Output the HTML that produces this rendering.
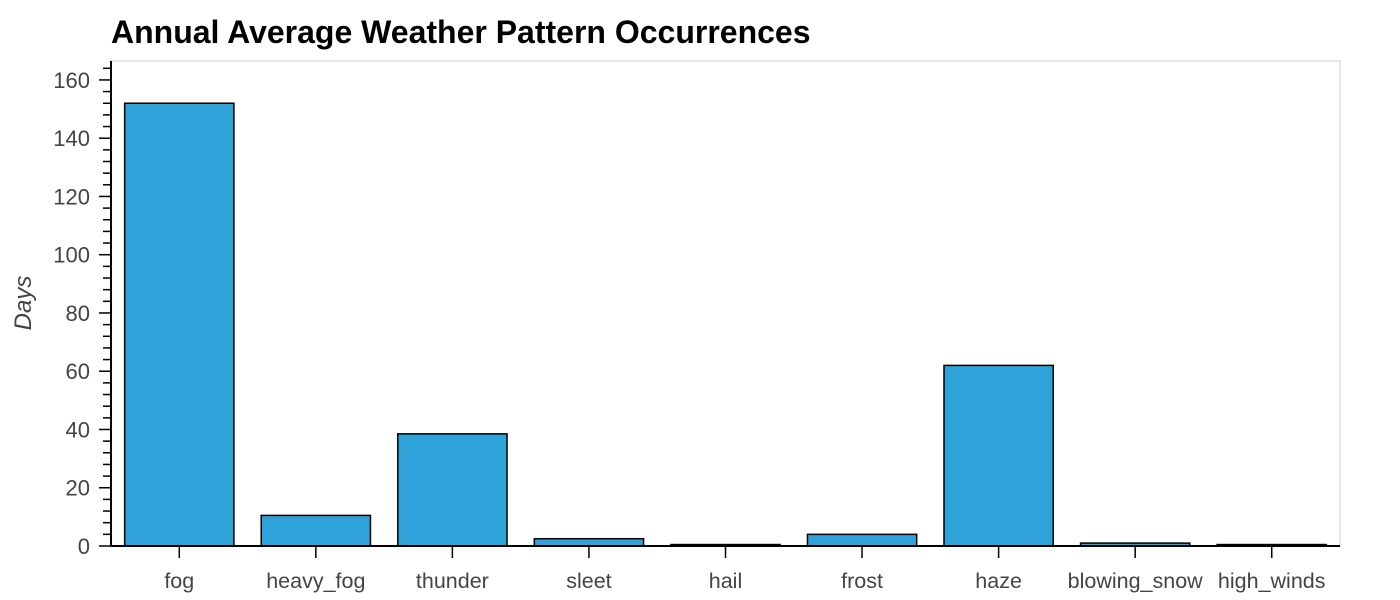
<!DOCTYPE html>
<html><head><meta charset="utf-8"><style>
body{margin:0;background:#fff;}
svg{display:block;font-family:"Liberation Sans",sans-serif;}
</style></head><body>
<svg id="chart" width="1400" height="600">
<text x="111" y="43" font-size="32" font-weight="bold" fill="#000">Annual Average Weather Pattern Occurrences</text>
<text transform="translate(31,303) rotate(-90)" text-anchor="middle" font-size="24" font-style="italic" fill="#444">Days</text>
<g id="plot"></g>
</svg>
<script>
const categories=["fog","heavy_fog","thunder","sleet","hail","frost","haze","blowing_snow","high_winds"];
const values=[152,10.5,38.5,2.5,0.5,4,62,1,0.5];
const yTicks=[0,20,40,60,80,100,120,140,160];
const L=111,R=1340,T=61,B=546,yMax=166.5;
const y=v=>B-(v/yMax)*(B-T);
const band=(R-L)/categories.length;
const x=i=>L+band*i;
const g=document.getElementById('plot');
const NS="http://www.w3.org/2000/svg";
function mk(tag,attrs){const e=document.createElementNS(NS,tag);for(const k in attrs)e.setAttribute(k,attrs[k]);g.appendChild(e);return e;}
let f=mk('rect',{x:L,y:T,width:R-L,height:B-T,fill:'none',stroke:'#e5e5e5','stroke-width':2});


values.forEach((v,i)=>{
 const w=band*0.8;
 const r=mk('rect',{x:x(i)+band*0.1,y:y(v),width:w,height:B-y(v),fill:'#30a2da',stroke:'#000','stroke-width':1.5});
 
 
 const t=mk('line',{x1:x(i)+band/2,x2:x(i)+band/2,y1:B,y2:B+12,stroke:'#000','stroke-width':1.5});
 
 
 const lb=mk('text',{x:x(i)+band/2,y:B+42,'text-anchor':'middle','font-size':21.5,fill:'#444'});
 lb.textContent=categories[i];
 
 
});
for(let v=0;v<=yMax;v+=4){
 const major=v%20===0;
 const t=mk('line',{x1:major?L-12:L-8,x2:L,y1:y(v),y2:y(v),stroke:'#000','stroke-width':1.5});
 
 
}
yTicks.forEach(v=>{
 const lb=mk('text',{x:L-21,y:y(v)+8,'text-anchor':'end','font-size':22,fill:'#444'});
 lb.textContent=v;
 
 
});
let ya=mk('line',{x1:L,x2:L,y1:T,y2:B,stroke:'#000','stroke-width':2});


let xa=mk('line',{x1:L,x2:R,y1:B,y2:B,stroke:'#000','stroke-width':2});


</script>
</body></html>
